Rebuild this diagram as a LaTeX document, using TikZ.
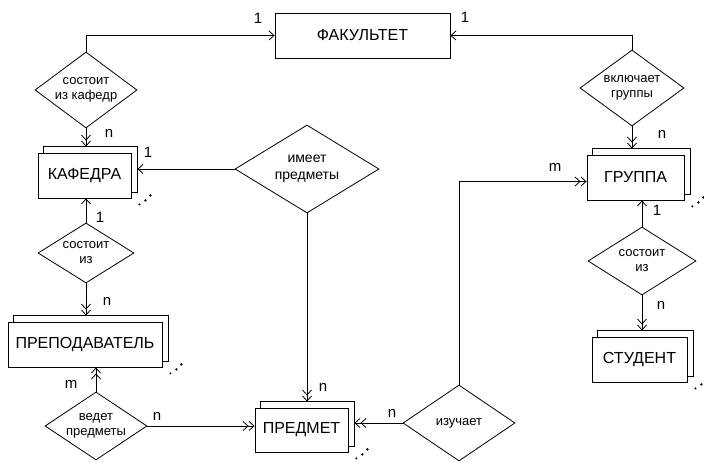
\documentclass[tikz,border=0pt]{standalone}
\usepackage{fontspec}
\setmainfont{Liberation Sans}
\usetikzlibrary{shapes.geometric,arrows.meta,calc}
\newcommand\ERback[1]{\draw ([xshift=6pt]#1.north west) -- ([xshift=6pt,yshift=6pt]#1.north west) -- ([xshift=6pt,yshift=6pt]#1.north east) -- ([xshift=6pt,yshift=6pt]#1.south east) -- ([yshift=6pt]#1.south east);}
\newcommand\ERdots[1]{\fill ([xshift=8pt,yshift=-6pt]#1.south east) circle (1.1pt) ([xshift=14pt,yshift=-2pt]#1.south east) circle (1.3pt) ([xshift=19pt,yshift=3pt]#1.south east) circle (1.4pt);}
\begin{document}
\begin{tikzpicture}[x=1pt,y=-1pt,
  line width=0.8pt,
  ent/.style={draw, fill=white, rectangle, inner sep=0pt, font=\fontsize{16}{18}\selectfont},
  rel/.style={draw, fill=white, diamond, inner sep=0pt, align=center, font=\fontsize{13}{15}\selectfont},
  card/.style={inner sep=0pt, font=\fontsize{15}{17}\selectfont},
  one/.style={-{Straight Barb[length=5pt,width=9pt]}},
  many/.style={-{Straight Barb[length=5pt,width=9pt]Straight Barb[length=5pt,width=9pt]}}
]
\useasboundingbox (0,0) rectangle (704,462);
% entities
\node[ent, minimum width=175pt, minimum height=45pt] (fak) at (362.5,35.5) {ФАКУЛЬТЕТ};
\node[ent, minimum width=93pt, minimum height=45pt] (kaf) at (84.5,175.5) {КАФЕДРА};
\node[ent, minimum width=154pt, minimum height=45pt] (prep) at (85,344.5) {ПРЕПОДАВАТЕЛЬ};
\node[ent, minimum width=93pt, minimum height=44pt] (pred) at (301.5,430) {ПРЕДМЕТ};
\node[ent, minimum width=97pt, minimum height=45pt] (grp) at (635.5,177.5) {ГРУППА};
\node[ent, minimum width=95pt, minimum height=45pt] (stud) at (639.5,359.5) {СТУДЕНТ};
\ERback{kaf}\ERback{prep}\ERback{pred}\ERback{grp}\ERback{stud}
\ERdots{kaf}\ERdots{prep}\ERdots{pred}\ERdots{grp}\ERdots{stud}
% relationships
\node[rel, minimum width=102pt, minimum height=76pt, aspect=1.34] (d1) at (86,90) {состоит\\из кафедр};
\node[rel, minimum width=144pt, minimum height=88pt, aspect=1.6, font=\fontsize{14}{17}\selectfont] (d2) at (307,169) {имеет\\предметы};
\node[rel, minimum width=96pt, minimum height=60pt, aspect=1.6] (d3) at (86,253) {состоит\\из};
\node[rel, minimum width=102pt, minimum height=68pt, aspect=1.5] (d4) at (96,426) {ведет\\предметы};
\node[rel, minimum width=112pt, minimum height=76pt, aspect=1.47] (d5) at (459,423) {изучает};
\node[rel, minimum width=104pt, minimum height=76pt, aspect=1.37] (d6) at (632,88) {включает\\группы};
\node[rel, minimum width=108pt, minimum height=68pt, aspect=1.6] (d7) at (642,261) {состоит\\из};
% connectors
\draw[one] (d1.north) |- (fak.west);
\draw[one] (d6.north) |- (fak.east);
\draw[many] (d1.south) -- ([yshift=6pt]d1.south |- kaf.north);
\draw[one] (d2.west) -- ([xshift=6pt]d2.west -| kaf.east);
\draw[many] (d2.south) -- ([yshift=6pt]d2.south |- pred.north);
\draw[one] (d3.north) -- (d3.north |- kaf.south);
\draw[many] (d3.south) -- ([yshift=6pt]d3.south |- prep.north);
\draw[many] (d4.north) -- (d4.north |- prep.south);
\draw[many] (d4.east) -- (d4.east -| pred.west);
\draw[many] (d5.west) -- ([xshift=6pt]d5.west -| pred.east);
\draw[many] (d5.north) |- ([yshift=-4pt]grp.west);
\draw[many] (d6.south) -- ([yshift=6pt]d6.south |- grp.north);
\draw[one] (d7.north) -- (d7.north |- grp.south);
\draw[many] (d7.south) -- ([yshift=6pt]d7.south |- stud.north);
% cardinalities
\node[card] (c1) at (258,18) {1};
\node[card] (c2) at (465,17) {1};
\node[card] (c3) at (109,133) {n};
\node[card] (c4) at (148,152) {1};
\node[card] (c5) at (100,217) {1};
\node[card] (c6) at (107,301) {n};
\node[card] (c7) at (71,384) {m};
\node[card] (c8) at (157,416) {n};
\node[card] (c9) at (323,387) {n};
\node[card] (c10) at (392,413) {n};
\node[card] (c11) at (555,167) {m};
\node[card] (c12) at (662,134) {n};
\node[card] (c13) at (657,210) {1};
\node[card] (c14) at (661,305) {n};
\end{tikzpicture}
\end{document}
